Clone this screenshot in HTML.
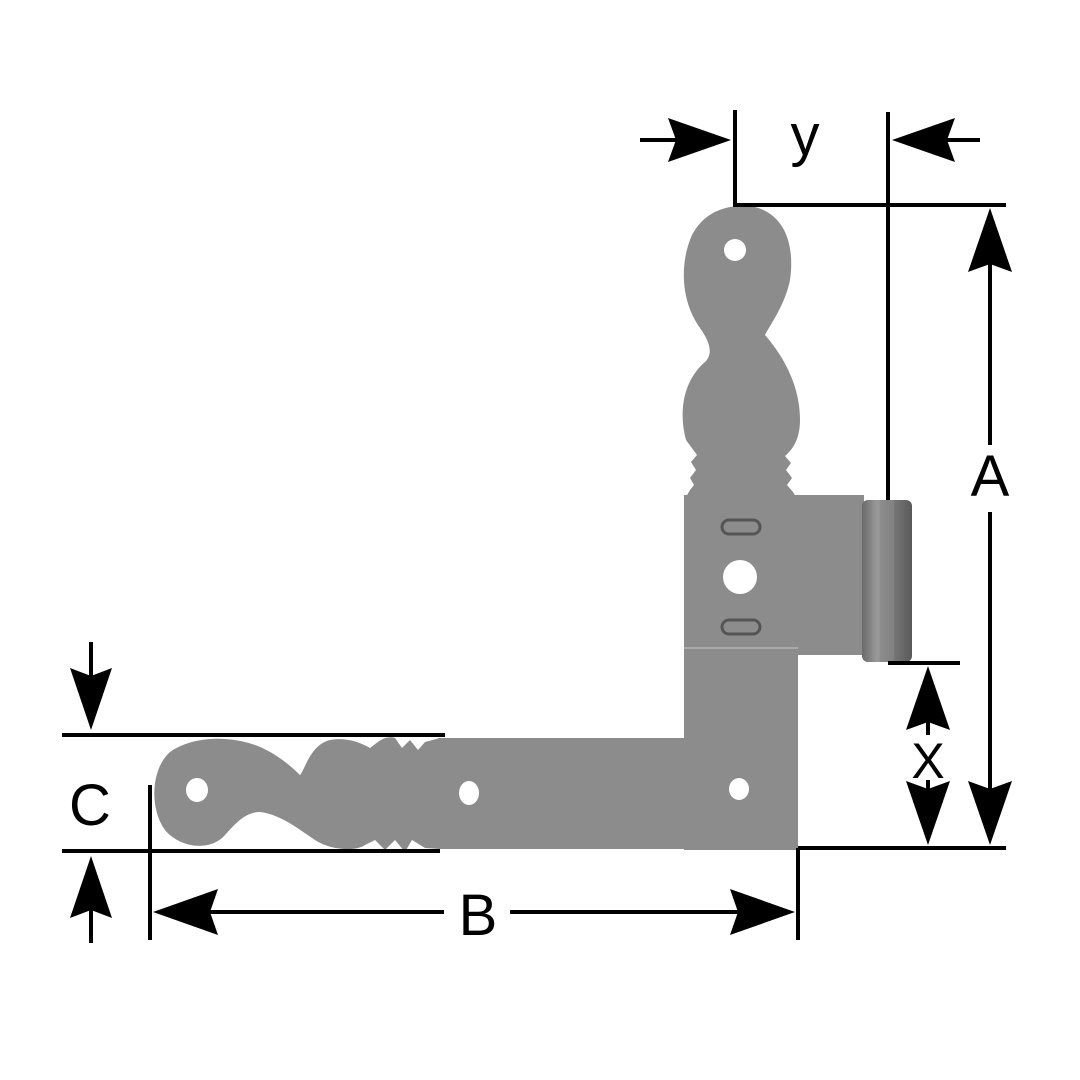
<!DOCTYPE html>
<html><head><meta charset="utf-8"><style>html,body{margin:0;padding:0;background:#fff}svg{display:block}</style></head>
<body>
<svg width="1080" height="1080" viewBox="0 0 1080 1080" xmlns="http://www.w3.org/2000/svg">
<defs>
<linearGradient id="bar" x1="0" x2="1" y1="0" y2="0">
<stop offset="0" stop-color="#6a6a6a"/><stop offset="0.3" stop-color="#9a9a9a"/><stop offset="0.6" stop-color="#7a7a7a"/><stop offset="1" stop-color="#5a5a5a"/>
</linearGradient>
</defs>
<rect width="1080" height="1080" fill="#fff"/>
<g fill="#8c8c8c">
<path d="M686,497 L690,490 L694,485 L690,478 L696,470 L691,462 L697,455 L686,440 C678,410 684,380 705,362 C712,355 712,345 700,328 C680,300 680,262 692,235 C705,210 730,203 755,207 C785,215 795,245 790,280 C785,305 770,325 765,335 C778,350 800,380 800,420 C800,440 792,450 785,456 L791,463 L786,470 L792,478 L787,485 L793,492 L796,497 Z"/>
<rect x="684" y="495" width="180" height="160"/>
<rect x="684" y="650" width="114" height="200"/>
<rect x="438" y="738" width="360" height="111"/>
<path d="M440,738 L425,742 L418,750 L410,740 L402,748 L395,738 C385,735 378,742 370,748 C360,742 345,737 330,740 C310,745 305,770 300,775 C290,765 270,748 245,742 C220,736 190,738 170,752 C150,770 150,810 165,830 C180,848 210,852 225,835 C235,824 245,812 260,812 C280,814 300,830 315,840 C330,850 355,852 365,845 L375,840 L385,850 L395,840 L405,852 L412,840 L425,848 L440,849 Z"/>
</g>
<rect x="862" y="500" width="50" height="162" rx="6" fill="url(#bar)"/>
<rect x="880" y="500" width="14" height="162" fill="#888" opacity="0.6"/>
<line x1="684" y1="648" x2="798" y2="648" stroke="#aaa" stroke-width="2"/>
<g fill="#fff">
<circle cx="735" cy="250" r="11"/>
<circle cx="740" cy="577" r="17"/>
<ellipse cx="197" cy="790" rx="11" ry="12"/>
<ellipse cx="469" cy="793" rx="10" ry="12"/>
<ellipse cx="739" cy="789" rx="10" ry="11"/>
</g>
<g fill="none" stroke="#555" stroke-width="3">
<rect x="722" y="520" width="38" height="14" rx="7"/>
<rect x="722" y="620" width="38" height="14" rx="7"/>
</g>
<g stroke="#000" stroke-width="4" fill="none">
<line x1="735" y1="110" x2="735" y2="206"/>
<line x1="888" y1="112" x2="888" y2="500"/>
<line x1="733" y1="205" x2="1006" y2="205"/>
<line x1="640" y1="140" x2="700" y2="140"/>
<line x1="920" y1="140" x2="980" y2="140"/>
<line x1="990" y1="260" x2="990" y2="445"/>
<line x1="990" y1="512" x2="990" y2="790"/>
<line x1="798" y1="848" x2="1006" y2="848"/>
<line x1="798" y1="848" x2="798" y2="940"/>
<line x1="888" y1="663" x2="960" y2="663"/>
<line x1="928" y1="715" x2="928" y2="735"/>
<line x1="928" y1="780" x2="928" y2="800"/>
<line x1="62" y1="735" x2="445" y2="735"/>
<line x1="62" y1="851" x2="440" y2="851"/>
<line x1="91" y1="642" x2="91" y2="690"/>
<line x1="91" y1="900" x2="91" y2="943"/>
<line x1="150" y1="785" x2="150" y2="940"/>
<line x1="200" y1="912" x2="444" y2="912"/>
<line x1="510" y1="912" x2="750" y2="912"/>
</g>
<g fill="#000">
<path d="M731,140 L668,118 L676,140 L668,162 Z"/>
<path d="M892,140 L955,118 L947,140 L955,162 Z"/>
<path d="M990,208 L968,272 L990,264 L1012,272 Z"/>
<path d="M990,845 L968,781 L990,789 L1012,781 Z"/>
<path d="M928,666 L906,730 L928,722 L950,730 Z"/>
<path d="M928,845 L906,781 L928,789 L950,781 Z"/>
<path d="M91,730 L70,668 L91,676 L112,668 Z"/>
<path d="M91,856 L70,918 L91,910 L112,918 Z"/>
<path d="M153,912 L218,889 L210,912 L218,935 Z"/>
<path d="M795,912 L730,889 L738,912 L730,935 Z"/>
</g>
<g font-family="Liberation Sans, sans-serif" font-size="58" fill="#000" text-anchor="middle">
<text x="805" y="155">y</text>
<text x="990" y="496">A</text>
<text x="928" y="778" font-size="50">X</text>
<text x="90" y="825">C</text>
<text x="478" y="935">B</text>
</g>
</svg>
</body></html>
